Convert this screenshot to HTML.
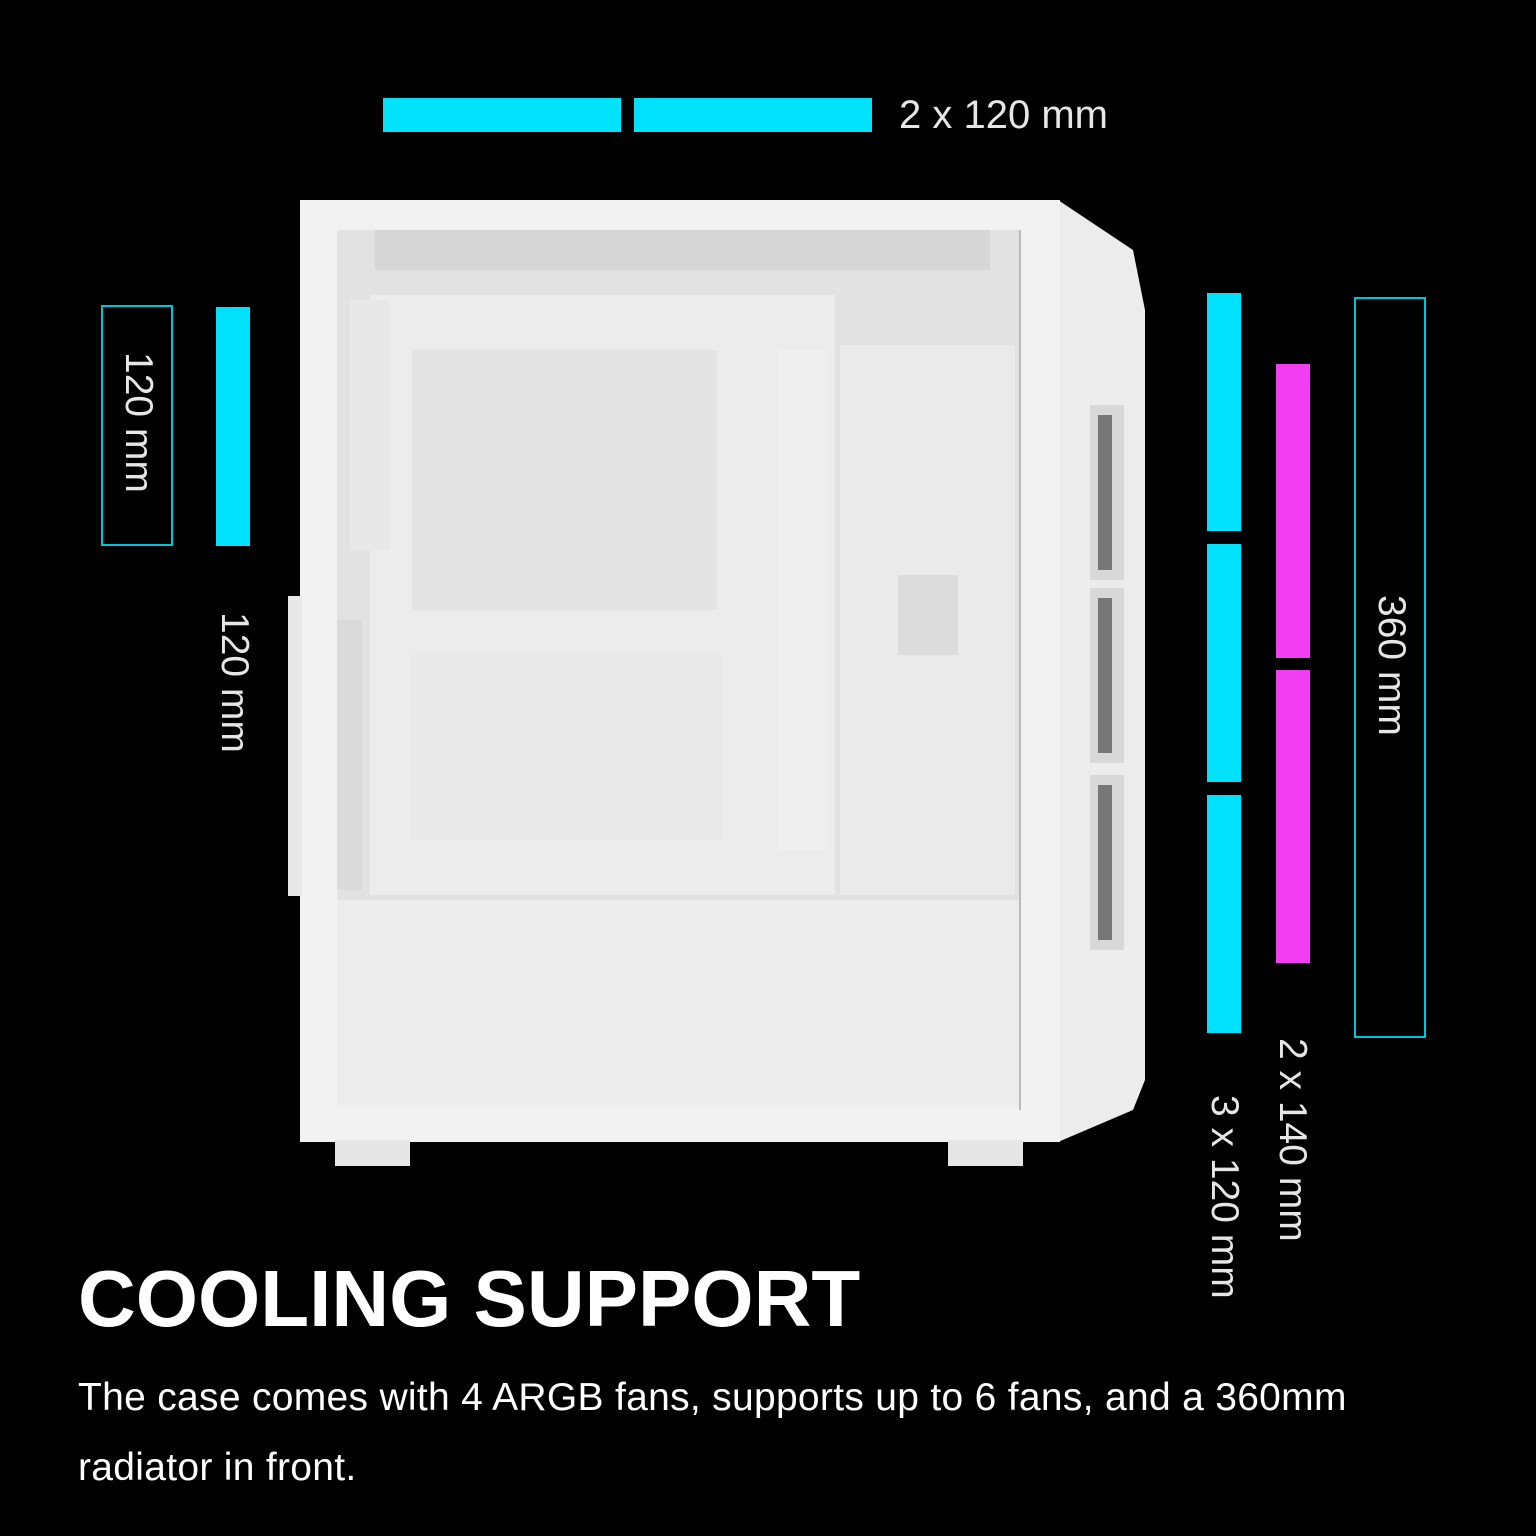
<!DOCTYPE html>
<html><head><style>
body{margin:0;background:#000;width:1536px;height:1536px;overflow:hidden;position:relative;font-family:"Liberation Sans",sans-serif;}
.b{position:absolute}
.c{background:#00e1fb}
.m{background:#f23ef2}
.o{border:2px solid #00c3dc;box-sizing:border-box}
.v{position:absolute;writing-mode:vertical-rl;color:#e6e6e6;font-size:39px;white-space:nowrap}
</style></head><body>
<div class="b c" style="left:383px;top:98px;width:238px;height:34px"></div>
<div class="b c" style="left:634px;top:98px;width:238px;height:34px"></div>
<div class="b" style="left:899px;top:93px;font-size:40px;color:#e6e6e6">2 x 120 mm</div>

<div class="b o" style="left:101px;top:305px;width:72px;height:241px"></div>
<div class="v" style="left:116px;top:352px">120 mm</div>
<div class="b c" style="left:216px;top:307px;width:34px;height:239px"></div>
<div class="v" style="left:212px;top:612px">120 mm</div>

<div class="b c" style="left:1207px;top:293px;width:34px;height:238px"></div>
<div class="b c" style="left:1207px;top:544px;width:34px;height:238px"></div>
<div class="b c" style="left:1207px;top:795px;width:34px;height:238px"></div>
<div class="v" style="left:1202px;top:1095px">3 x 120 mm</div>
<div class="b m" style="left:1276px;top:364px;width:34px;height:294px"></div>
<div class="b m" style="left:1276px;top:670px;width:34px;height:293px"></div>
<div class="v" style="left:1270px;top:1038px">2 x 140 mm</div>
<div class="b o" style="left:1354px;top:297px;width:72px;height:741px"></div>
<div class="v" style="left:1369px;top:595px">360 mm</div>

<svg class="b" style="left:0;top:0" width="1536" height="1536">
<polygon points="1058,200 1133,250 1145,310 1145,1080 1133,1110 1058,1142" fill="#ececec"/>
<rect x="1090" y="405" width="34" height="175" fill="#d8d8d8"/><rect x="1098" y="415" width="14" height="155" fill="#777"/>
<rect x="1090" y="588" width="34" height="175" fill="#d8d8d8"/><rect x="1098" y="598" width="14" height="155" fill="#777"/>
<rect x="1090" y="775" width="34" height="175" fill="#d8d8d8"/><rect x="1098" y="785" width="14" height="155" fill="#777"/>
<rect x="300" y="200" width="760" height="942" fill="#f2f2f2"/>
<rect x="288" y="596" width="14" height="300" fill="#e8e8e8"/>
<rect x="335" y="1140" width="75" height="26" fill="#e6e6e6"/>
<rect x="948" y="1140" width="75" height="26" fill="#e6e6e6"/>
<rect x="337" y="230" width="683" height="670" fill="#e2e2e2"/>
<rect x="375" y="230" width="615" height="40" fill="#d6d6d6"/>
<rect x="370" y="295" width="465" height="600" fill="#ececec"/>
<rect x="412" y="350" width="305" height="260" fill="#e4e4e4"/>
<rect x="410" y="655" width="312" height="185" fill="#e9e9e9"/>
<rect x="840" y="345" width="175" height="550" fill="#eaeaea"/>
<rect x="898" y="575" width="60" height="80" fill="#dcdcdc"/>
<rect x="778" y="350" width="50" height="500" fill="#efefef"/>
<rect x="350" y="300" width="40" height="250" fill="#e8e8e8"/>
<rect x="337" y="620" width="25" height="270" fill="#dadada"/>
<rect x="337" y="900" width="683" height="208" fill="#ededed"/>
<line x1="1020" y1="230" x2="1020" y2="1110" stroke="#bbb" stroke-width="2"/>
</svg>

<div class="b" style="left:78px;top:1253px;font-size:80px;font-weight:bold;color:#fff">COOLING SUPPORT</div>
<div class="b" style="left:78px;top:1363px;font-size:39px;letter-spacing:0.3px;color:#fff;line-height:70px;width:1440px">The case comes with 4 ARGB fans, supports up to 6 fans, and a 360mm<br>radiator in front.</div>
</body></html>
